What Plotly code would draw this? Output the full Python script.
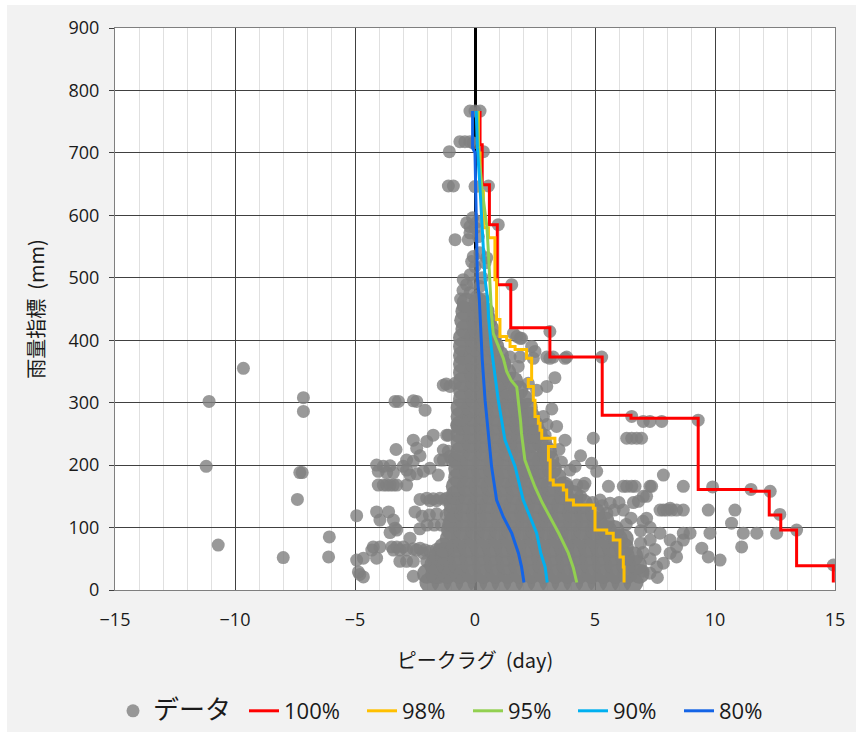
import plotly.graph_objects as go

# ---------------- scatter data (ピークラグ [day], 雨量指標 [mm]) ----------------
# dense core: one list of lags per rain level
core_rain = [12, 26, 40, 54, 68, 82, 96, 110, 124, 138, 152, 166, 180, 194, 208,
             222, 236, 250, 264, 278, 292, 306, 320, 334, 348, 362, 376, 390,
             404, 418, 432, 446, 460]
core_lag = [
    [-1.9, -1.4, -0.9, -0.4, 0.1, 0.6, 1.1, 1.6, 2.1, 2.6, 3.1, 3.6, 4.1, 4.6, 5.1, 5.6, 6.1, 6.6],
    [-2.0, -1.65, -1.15, -0.65, -0.15, 0.35, 0.85, 1.35, 1.85, 2.35, 2.85, 3.35, 3.85, 4.35, 4.85, 5.35, 5.85, 6.35, 6.85],
    [-1.7, -1.2, -0.7, -0.2, 0.3, 0.8, 1.3, 1.8, 2.3, 2.8, 3.3, 3.8, 4.3, 4.8, 5.3, 5.8, 6.3, 6.75],
    [-1.5, -1.25, -0.75, -0.25, 0.25, 0.75, 1.25, 1.75, 2.25, 2.75, 3.25, 3.75, 4.25, 4.75, 5.25, 5.75, 6.25, 6.6],
    [-1.3, -0.8, -0.3, 0.2, 0.7, 1.2, 1.7, 2.2, 2.7, 3.2, 3.7, 4.2, 4.7, 5.2, 5.7, 6.2],
    [-1.05, -0.55, -0.05, 0.45, 0.95, 1.45, 1.95, 2.45, 2.95, 3.45, 3.95, 4.45, 4.95, 5.45, 5.95, 6.2],
    [-1.0, -0.5, 0.0, 0.5, 1.0, 1.5, 2.0, 2.5, 3.0, 3.5, 4.0, 4.5, 5.0, 5.5, 5.8],
    [-0.9, -0.4, 0.1, 0.6, 1.1, 1.6, 2.1, 2.6, 3.1, 3.6, 4.1, 4.6, 5.1, 5.4],
    [-0.9, -0.45, 0.05, 0.55, 1.05, 1.55, 2.05, 2.55, 3.05, 3.55, 4.05, 4.55, 5.0],
    [-0.9, -0.4, 0.1, 0.6, 1.1, 1.6, 2.1, 2.6, 3.1, 3.6, 4.1, 4.5],
    [-0.8, -0.3, 0.2, 0.7, 1.2, 1.7, 2.2, 2.7, 3.2, 3.7, 4.1],
    [-0.8, -0.35, 0.15, 0.65, 1.15, 1.65, 2.15, 2.65, 3.15, 3.7],
    [-0.7, -0.2, 0.3, 0.8, 1.3, 1.8, 2.3, 2.8, 3.4],
    [-0.7, -0.25, 0.25, 0.75, 1.25, 1.75, 2.25, 2.75, 3.2],
    [-0.7, -0.2, 0.3, 0.8, 1.3, 1.8, 2.3, 2.8, 3.1],
    [-0.6, -0.1, 0.4, 0.9, 1.4, 1.9, 2.4, 3.0],
    [-0.6, -0.15, 0.35, 0.85, 1.35, 1.85, 2.35, 2.8],
    [-0.6, -0.1, 0.4, 0.9, 1.4, 1.9, 2.35, 2.6],
    [-0.6, -0.15, 0.35, 0.85, 1.35, 1.85, 2.45],
    [-0.6, -0.1, 0.4, 0.9, 1.4, 1.85, 2.3],
    [-0.6, -0.15, 0.35, 0.85, 1.35, 1.8, 2.2],
    [-0.5, 0.0, 0.5, 1.0, 1.5, 2.0],
    [-0.5, -0.05, 0.45, 0.95, 1.4, 1.8],
    [-0.5, 0.0, 0.5, 1.0, 1.6],
    [-0.5, -0.05, 0.45, 0.9, 1.3],
    [-0.5, 0.0, 0.5, 1.1],
    [-0.5, -0.05, 0.45, 1.0],
    [-0.5, 0.0, 0.5, 0.8],
    [-0.5, -0.05, 0.45, 0.7],
    [-0.4, 0.1, 0.6],
    [-0.45, 0.05, 0.5],
    [-0.4, 0.1, 0.4],
    [-0.35, 0.15],
]

upper_pts = [
    (-0.21, 767), (0.0, 767), (0.21, 767),
    (-0.63, 718), (-0.42, 718), (-0.21, 718), (-0.07, 716), (0.35, 702), (-1.07, 702),
    (-1.11, 647), (-0.9, 647), (0.0, 646), (0.56, 647),
    (-0.35, 588), (-0.21, 582), (0.0, 580), (0.97, 585), (-0.21, 572), (-0.28, 561),
    (0.14, 566), (-0.83, 561), (0.1, 590), (-0.1, 596),
    (-0.07, 534), (-0.14, 526), (0.0, 518), (0.49, 532), (0.42, 524), (0.2, 540),
    (-0.49, 497), (-0.35, 489), (-0.07, 492), (0.21, 486), (-0.21, 476), (0.07, 470),
    (-0.49, 454), (1.53, 489), (-0.5, 480), (0.3, 500), (-0.2, 505), (-0.6, 466), (0.35, 466),
]

right_pts = [
    (1.6, 411), (1.88, 403), (1.74, 406), (1.94, 403), (3.12, 414), (2.36, 390), (2.5, 382),
    (2.43, 371), (1.46, 373), (1.88, 373), (2.99, 373), (3.26, 373), (3.82, 373), (5.28, 373),
    (3.12, 371), (3.75, 371), (1.8, 358), (3.33, 340), (2.99, 326), (2.22, 331), (2.57, 320),
    (2.85, 278), (3.4, 262), (2.92, 248), (3.75, 240), (4.93, 243), (6.32, 243), (6.53, 243),
    (6.74, 243), (6.94, 243), (6.53, 278), (7.01, 270), (7.29, 270), (7.78, 270), (9.3, 272),
    (3.2, 290), (3.0, 265),
    (4.86, 203), (5.07, 190), (4.17, 198), (7.85, 184), (3.96, 192), (4.24, 168), (4.58, 171),
    (7.29, 166), (6.32, 166), (6.67, 166), (7.01, 150), (3.82, 166), (4.51, 166), (5.56, 166),
    (6.18, 166), (6.53, 166), (7.36, 166), (8.68, 166), (9.9, 165), (3.6, 205), (3.5, 225),
    (4.4, 215),
    (7.85, 128), (8.13, 131), (4.4, 150), (4.9, 140), (5.21, 144), (5.63, 139), (6.0, 140),
    (6.6, 140), (6.81, 142), (7.15, 150), (5.3, 135), (5.8, 128), (6.18, 128), (5.49, 123),
    (7.71, 128), (7.99, 128), (8.19, 128), (8.4, 128), (8.68, 128), (9.72, 128), (10.83, 128),
    (7.15, 115), (10.69, 107), (7.0, 110), (7.3, 100), (6.9, 95), (6.5, 115), (6.3, 105),
    (11.5, 161), (12.3, 158), (12.7, 121),
    (7.71, 91), (8.68, 91), (8.96, 91), (9.79, 91), (11.18, 91), (11.74, 91), (12.57, 91),
    (13.4, 96), (11.11, 69), (9.45, 67), (9.72, 53), (10.21, 48), (8.13, 80), (8.4, 69),
    (8.13, 59), (8.4, 53), (7.85, 43), (7.57, 37), (7.29, 27), (14.93, 40), (8.68, 80),
    (7.0, 60), (7.3, 50), (7.0, 30), (7.6, 20), (6.9, 75), (7.3, 80), (7.5, 65),
]

left_pts = [
    (-4.93, 119), (-4.93, 48), (-4.65, 51), (-4.8, 25), (-4.65, 21), (-2.57, 22), (-4.86, 29),
    (-3.33, 302), (-3.19, 302), (-2.57, 303), (-2.43, 302), (-2.08, 288),
    (-1.32, 328), (-1.04, 326), (-0.83, 331), (-1.2, 330), (-0.49, 374), (-0.21, 380),
    (-1.11, 248), (-0.69, 262), (-2.57, 240), (-2.01, 238), (-1.74, 248), (-1.18, 248),
    (-0.76, 264), (-0.35, 278),
    (-3.29, 225), (-2.43, 227), (-2.29, 215), (-1.32, 224), (-1.11, 222),
    (-4.1, 200), (-3.82, 198), (-3.54, 199), (-4.03, 190), (-3.68, 188), (-3.4, 188),
    (-2.85, 208), (-2.57, 206), (-2.99, 198), (-1.46, 208), (-0.97, 208), (-1.32, 208),
    (-1.04, 214), (-0.76, 208),
    (-2.71, 184), (-2.43, 186), (-2.15, 190), (-1.88, 195), (-1.53, 184), (-2.85, 192),
    (-4.03, 168), (-3.82, 168), (-3.54, 168), (-3.26, 168), (-2.85, 168), (-3.68, 168), (-3.4, 168),
    (-2.29, 145), (-2.01, 147), (-1.74, 146), (-1.46, 147), (-1.18, 147), (-0.9, 147),
    (-1.88, 143), (-1.6, 143), (-1.25, 145), (-0.97, 146), (-0.69, 147),
    (-4.1, 125), (-3.6, 125), (-3.96, 112), (-3.4, 112), (-3.26, 96), (-3.54, 92), (-3.33, 99),
    (-2.5, 125), (-2.2, 118), (-1.9, 120), (-1.6, 122), (-1.2, 120), (-0.9, 122), (-2.0, 104),
    (-1.7, 104), (-1.4, 104), (-1.1, 104), (-2.3, 98), (-0.8, 98),
    (-2.71, 83),
    (-4.24, 69), (-3.96, 69), (-3.47, 69), (-3.26, 69), (-2.99, 69), (-2.57, 66), (-2.29, 67),
    (-2.08, 64), (-1.88, 62), (-1.6, 65), (-1.32, 67), (-1.04, 68), (-0.76, 70),
    (-4.3, 64), (-4.1, 51), (-3.4, 64), (-3.13, 64), (-2.85, 64), (-2.43, 64), (-2.15, 59),
    (-1.46, 64),
    (-3.13, 46), (-2.85, 46), (-2.57, 46), (-2.01, 46), (-1.74, 48), (-1.46, 46), (-1.18, 46),
    (-1.6, 46), (-0.76, 27), (-1.5, 20), (-1.2, 28),
]

far_pts = [
    (-6.07, 85), (-6.1, 53), (-7.99, 52), (-10.7, 72), (-7.4, 145), (-7.3, 188), (-7.2, 188),
    (-11.2, 198), (-7.15, 308), (-7.15, 286), (-11.08, 302), (-9.65, 355),
]

# ---------------- percentile curves ----------------
p100_lag = [0.21, 0.3, 0.6, 0.93, 1.49, 3.12, 5.3, 6.5, 9.3, 11.5, 12.26, 12.74, 13.4, 14.93, 14.93]
p100_rain = [767, 713, 649, 585, 489, 420, 373, 280, 275, 161, 158, 120, 96, 39, 12]

p98_lag = [0.14, 0.21, 0.35, 0.56, 0.83, 0.9, 1.04, 1.32, 1.46, 1.67, 2.15, 2.36, 2.22, 2.43,
           2.5, 2.64, 2.71, 2.78, 3.33, 3.06, 3.13, 3.26, 3.68, 3.82, 4.1, 4.93, 5.0, 5.49,
           5.76, 6.04, 6.18, 6.21, 6.21]
p98_rain = [767, 700, 638, 580, 564, 497, 433, 406, 400, 390, 385, 371, 337, 326,
            304, 278, 267, 256, 243, 230, 208, 176, 168, 160, 144, 136, 131, 96,
            91, 80, 53, 37, 12]

p95_lag = [0.1, 0.14, 0.3, 0.5, 0.56, 0.62, 0.69, 0.76, 1.04, 1.18, 1.32, 1.5, 1.74, 1.81,
           1.9, 1.94, 2.08, 2.3, 2.5, 2.8, 3.12, 3.5, 3.89, 4.1, 4.24]
p95_rain = [767, 708, 640, 580, 540, 480, 440, 411, 385, 371, 350, 336, 325, 304,
            270, 250, 208, 185, 165, 140, 117, 90, 59, 35, 12]

p90_lag = [0.05, 0.1, 0.2, 0.3, 0.42, 0.53, 0.56, 0.69, 0.97, 1.25, 1.67, 2.01, 2.29, 2.57,
           2.74, 2.92, 3.01]
p90_rain = [767, 708, 650, 580, 497, 465, 438, 385, 304, 240, 198, 144, 117, 91,
            59, 37, 12]

p80_lag = [-0.1, -0.1, 0.0, 0.05, 0.1, 0.18, 0.24, 0.3, 0.42, 0.55, 0.69, 0.9, 1.18, 1.53,
           1.81, 1.94, 2.04]
p80_rain = [767, 708, 700, 600, 500, 465, 412, 370, 304, 250, 198, 144, 117, 91,
            59, 37, 12]

# ---------------- assemble ----------------
core_x = [x for row in core_lag for x in row]
core_y = [r for r, row in zip(core_rain, core_lag) for _ in row]
pts_x, pts_y = [], []
for group in (upper_pts, right_pts, left_pts, far_pts):
    pts_x += [p[0] for p in group]
    pts_y += [p[1] for p in group]

GRAY = "rgb(128,128,128)"
fig = go.Figure()
fig.add_trace(go.Scatter(
    x=pts_x, y=pts_y, mode="markers", name="<span style='font-size:26px'>データ</span>",
    legendwidth=86,
    marker=dict(color=GRAY, size=13, opacity=0.8, line=dict(width=0)),
))
fig.add_trace(go.Scatter(
    x=core_x, y=core_y, mode="markers", showlegend=False,
    marker=dict(color=GRAY, size=20, opacity=0.9, line=dict(width=0)),
))

curves = [
    ("100%", p100_lag, p100_rain, "#ff0000", "vh", 73),
    ("98%", p98_lag, p98_rain, "#ffc000", "vh", 61),
    ("95%", p95_lag, p95_rain, "#92d050", "linear", 60),
    ("90%", p90_lag, p90_rain, "#00b0f0", "linear", 61),
    ("80%", p80_lag, p80_rain, "#1464e6", "linear", 61),
]
for name, lx, ly, col, shp, lw in curves:
    fig.add_trace(go.Scatter(x=lx, y=ly, mode="lines", name=name, legendwidth=lw,
                             line=dict(color=col, width=3, shape=shp)))

# white outer frame around the grey chart area
def px_x(p):
    return (p - 115) / 720.0

def px_y(p):
    return (590 - p) / 562.0

frame = [
    (0, 0, 7, 738), (856, 0, 863, 738), (0, 0, 863, 5), (0, 732, 863, 738),
]
shapes = []
for x0, y0, x1, y1 in frame:
    shapes.append(dict(type="rect", xref="paper", yref="paper",
                       x0=px_x(x0), x1=px_x(x1), y0=px_y(y1), y1=px_y(y0),
                       fillcolor="white", line=dict(width=0), layer="above"))

tick_font = dict(family="Open Sans, Noto Sans CJK JP", size=18, color="#1a1a1a")
jp_font = dict(family="Noto Sans CJK JP", size=20, color="#1a1a1a")

fig.update_layout(
    width=863, height=738,
    margin=dict(l=115, r=28, t=28, b=148, pad=0, autoexpand=False),
    paper_bgcolor="#f2f2f2", plot_bgcolor="white",
    shapes=shapes,
    showlegend=True,
    legend=dict(orientation="h", x=-2 / 720.0, xanchor="left", y=px_y(711), yanchor="middle",
                font=dict(family="Open Sans, Noto Sans CJK JP", size=22, color="#1a1a1a"),
                bgcolor="rgba(0,0,0,0)", itemwidth=30),
    xaxis=dict(
        range=[-15, 15], tick0=0, dtick=5,
        showgrid=True, gridcolor="#404040", gridwidth=1,
        minor=dict(dtick=1, showgrid=True, gridcolor="#e0e0e0", gridwidth=1),
        zeroline=True, zerolinecolor="black", zerolinewidth=2.5,
        showline=True, linecolor="#7f7f7f", linewidth=1, mirror=True,
        ticks="", tickfont=tick_font, ticklabelstandoff=13,
        title=dict(text="ピークラグ  (day)", font=jp_font, standoff=24),
    ),
    yaxis=dict(
        range=[0, 900], tick0=0, dtick=100,
        showgrid=True, gridcolor="#404040", gridwidth=1,
        zeroline=False,
        showline=True, linecolor="#7f7f7f", linewidth=1, mirror=True,
        ticks="outside", ticklen=5, tickcolor="#404040",
        tickfont=tick_font, ticklabelstandoff=6,
        title=dict(text="雨量指標  (mm)", font=jp_font, standoff=18),
    ),
)

fig.write_html("out.html")
